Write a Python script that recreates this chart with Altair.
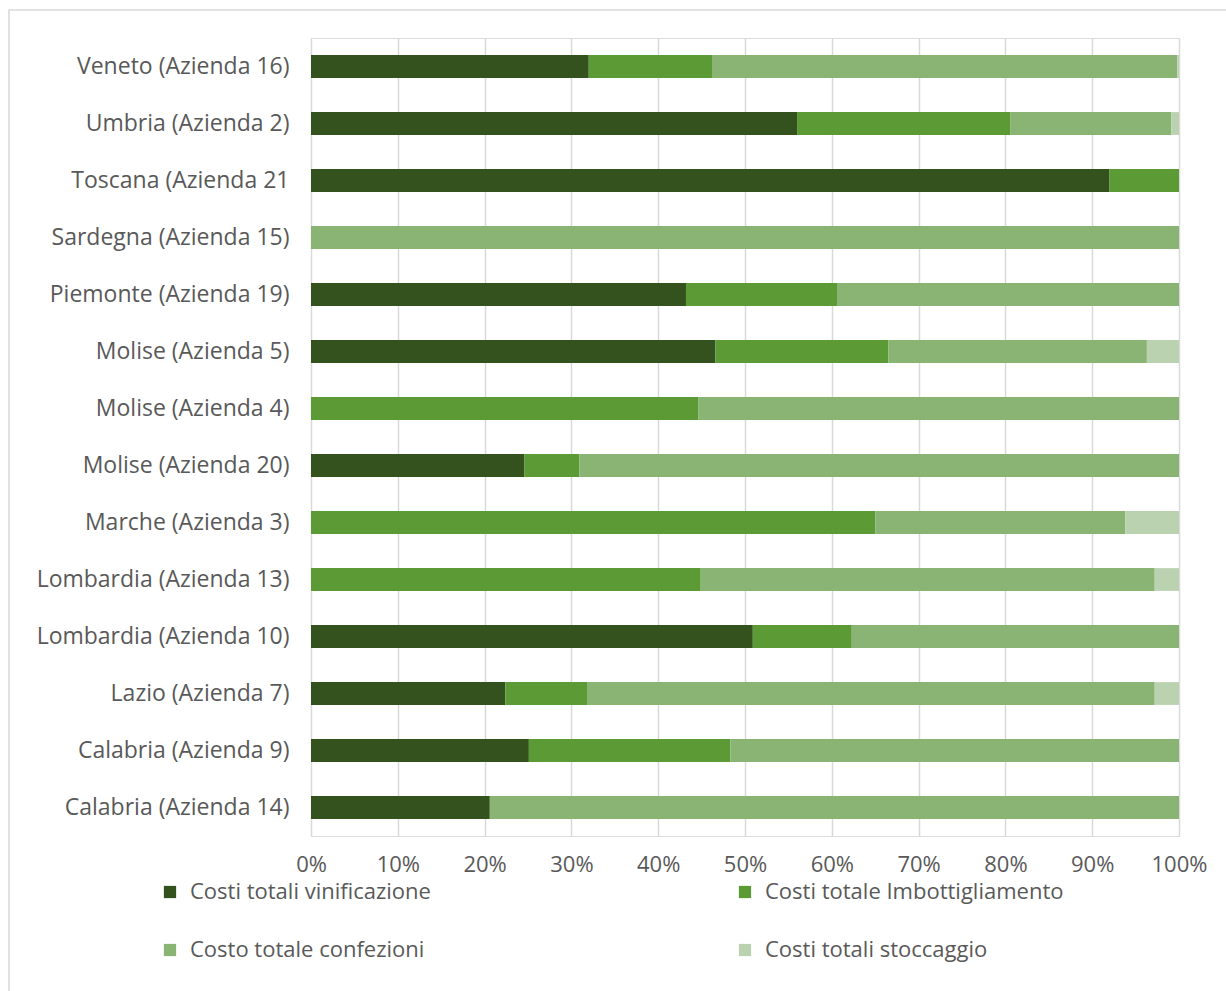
import altair as alt
import pandas as pd

categories = [
    "Veneto (Azienda 16)",
    "Umbria (Azienda 2)",
    "Toscana (Azienda 21",
    "Sardegna (Azienda 15)",
    "Piemonte (Azienda 19)",
    "Molise (Azienda 5)",
    "Molise (Azienda 4)",
    "Molise (Azienda 20)",
    "Marche (Azienda 3)",
    "Lombardia (Azienda 13)",
    "Lombardia (Azienda 10)",
    "Lazio (Azienda 7)",
    "Calabria (Azienda 9)",
    "Calabria (Azienda 14)",
]

series = [
    "Costi totali vinificazione",
    "Costi totale Imbottigliamento",
    "Costo totale confezioni",
    "Costi totali stoccaggio",
]

vinificazione = [32.0, 56.0, 92.0, 0, 43.2, 46.6, 0, 24.6, 0, 0, 50.9, 22.4, 25.1, 20.6]
imbottigliamento = [14.2, 24.6, 8.0, 0, 17.4, 19.9, 44.6, 6.3, 65.0, 44.9, 11.4, 9.4, 23.2, 0]
confezioni = [53.6, 18.5, 0, 100, 39.4, 29.8, 55.4, 69.1, 28.8, 52.3, 37.7, 65.4, 51.7, 79.4]
stoccaggio = [0.2, 0.9, 0, 0, 0, 3.7, 0, 0, 6.2, 2.8, 0, 2.8, 0, 0]

colors = ["#33521e", "#5c9a35", "#89b474", "#bbd2b1"]

rows = []
for s_idx, (name, vals) in enumerate(
    zip(series, [vinificazione, imbottigliamento, confezioni, stoccaggio])
):
    for cat, v in zip(categories, vals):
        rows.append({"Azienda": cat, "Serie": name, "Valore": v, "ordine": s_idx})
df = pd.DataFrame(rows)

FONT = "Open Sans"
GREY = "#595959"
FS_Y = 23
FS = 22

bars = (
    alt.Chart(df)
    .mark_bar()
    .encode(
        y=alt.Y(
            "Azienda:N",
            sort=categories,
            scale=alt.Scale(paddingInner=0.6, paddingOuter=0.3),
            axis=alt.Axis(
                title=None,
                domain=False,
                ticks=False,
                labelFont=FONT,
                labelFontSize=FS_Y,
                labelColor=GREY,
                labelPadding=22,
                labelLimit=400,
            ),
        ),
        x=alt.X(
            "Valore:Q",
            stack="normalize",
            scale=alt.Scale(domain=[0, 1], nice=False),
            axis=alt.Axis(
                title=None,
                format=".0%",
                values=[i / 10 for i in range(11)],
                domain=False,
                ticks=False,
                grid=True,
                gridColor="#d9d9d9",
                gridWidth=1.5,
                labelFont=FONT,
                labelFontSize=FS,
                labelColor=GREY,
                labelPadding=18,
                labelFlush=False,
            ),
        ),
        color=alt.Color(
            "Serie:N",
            sort=series,
            scale=alt.Scale(domain=series, range=colors),
            legend=alt.Legend(
                title=None,
                orient="none",
                direction="horizontal",
                legendX=-152,
                legendY=843,
                columns=2,
                gridAlign="all",
                columnPadding=245,
                rowPadding=36,
                symbolType="square",
                symbolSize=150,
                symbolStrokeWidth=0,
                labelFont=FONT,
                labelFontSize=FS,
                labelColor=GREY,
                labelOffset=9,
                labelLimit=500,
            ),
        ),
        order=alt.Order("ordine:Q", sort="ascending"),
    )
)

frame_df = pd.DataFrame({"k": [0]})
frame = (
    alt.Chart(frame_df)
    .mark_rect(fill=None, stroke="#d9d9d9", strokeWidth=1.5, clip=False)
    .encode(
        x=alt.value(-302),
        x2=alt.value(930),
        y=alt.value(-28),
        y2=alt.value(970),
    )
)

chart = (
    alt.layer(frame, bars)
    .properties(
        width=868,
        height=798,
        autosize=alt.AutoSizeParams(type="none"),
        padding={"left": 311, "top": 38, "right": 47, "bottom": 155},
    )
    .configure_view(stroke=None)
    .configure(background="white")
)

chart.save("out.html", embed_options={"renderer": "svg", "actions": False})
